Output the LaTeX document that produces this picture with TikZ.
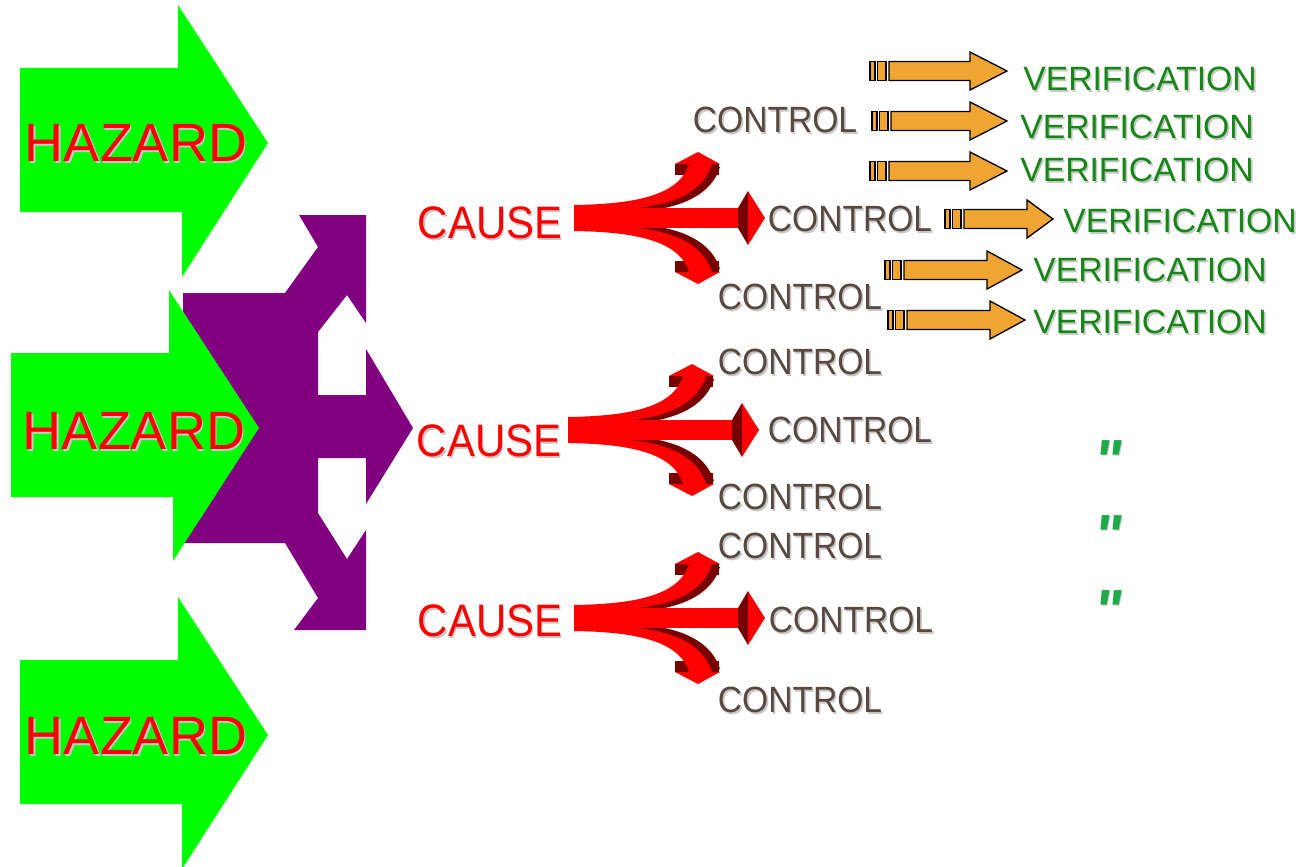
\documentclass[tikz,border=0pt]{standalone}
\usepackage{fontspec}
\setmainfont{Liberation Sans}
\newfontfamily\narrowfont[FakeStretch=0.92]{Liberation Sans}
\newfontfamily\dittofont[FakeSlant=0.15]{Liberation Sans}

\definecolor{hzgreen}{RGB}{0,255,0}
\definecolor{hzpurple}{RGB}{128,0,128}
\definecolor{forkred}{RGB}{255,0,0}
\definecolor{forkdark}{RGB}{118,0,0}
\definecolor{ctrlbrown}{RGB}{88,72,64}
\definecolor{verigreen}{RGB}{22,135,22}
\definecolor{vorange}{RGB}{240,165,50}
\definecolor{dittogreen}{RGB}{30,170,70}

% text with a soft grey drop shadow
\newcommand\shtext[1]{\rlap{\smash{\kern1.6pt\raisebox{-1.6pt}{\color{black!22}#1}}}#1}

\tikzset{
  hazardtext/.style={text=forkred, font=\fontsize{54}{60}\selectfont, inner sep=0pt},
  causetext/.style={text=forkred, font=\fontsize{45.5}{50}\narrowfont, inner sep=0pt},
  ctrltext/.style={text=ctrlbrown, font=\fontsize{36.5}{42}\narrowfont, inner sep=0pt},
  veritext/.style={text=verigreen, font=\fontsize{33.7}{40}\selectfont, inner sep=0pt},
  dittotext/.style={text=dittogreen, font=\fontsize{58}{64}\dittofont\bfseries, inner sep=0pt, anchor=base},
  vpart/.style={fill=vorange, draw=black, line width=1.3pt, line join=miter},
  % three-way 3D red arrow: stem at the origin, pointing right
  pics/fork/.style={code={
    \foreach \s in {1,-1}{
      \begin{scope}[yscale=\s]
        \fill[forkdark] (101,-54) rectangle (145,-43);
        \fill[forkdark, shift={(8,3)}] (0,-13) .. controls (60,-14) and (105,-22) .. (115,-54)
           -- (138,-54) .. controls (128,-22) and (90,-10) .. (45,-9) -- cycle;
      \end{scope}
    }
    \foreach \s in {1,-1}{
      \begin{scope}[yscale=\s]
        \fill[forkred] (0,-13) .. controls (60,-14) and (105,-22) .. (115,-54)
           -- (138,-54) .. controls (128,-22) and (90,-10) .. (45,-9) -- cycle;
        \fill[forkred] (101,-54) -- (124,-66) -- (146,-54) -- cycle;
      \end{scope}
    }
    \fill[forkred] (0,-13) rectangle (46,13);
    \fill[forkred] (40,-10) rectangle (168,10);
    \fill[forkdark] (164,-10) -- (174,-27) -- (174,27) -- (164,10) -- cycle;
    \fill[forkred] (174,-27) -- (191,0) -- (174,27) -- cycle;
  }},
  % orange block arrow with two small bars at its tail
  pics/verarrow/.style 2 args={code={
    \draw[vpart] (0,-9.5) rectangle (5,9.5);
    \draw[vpart] (7.5,-9.5) rectangle (16,9.5);
    \draw[vpart] (19,-9.5) -- (#1,-9.5) -- (#1,-19) -- (#2,0) -- (#1,19) -- (#1,9.5) -- (19,9.5) -- cycle;
  }}
}

\begin{document}
\begin{tikzpicture}[x=1pt,y=-1pt]
\useasboundingbox (0,0) rectangle (1306,867);

% purple merging arrow
\fill[hzpurple] (299,215) -- (366,215) -- (366,323) -- (347,295) -- (318,332) -- (318,395)
  -- (366,395) -- (366,349) -- (413,428) -- (366,504) -- (366,458) -- (318,458) -- (318,513)
  -- (347,559) -- (366,530) -- (366,630) -- (294,630) -- (318,598) -- (285,543) -- (183,543)
  -- (183,293) -- (285,293) -- (318,247) -- cycle;

% green hazard arrows
\fill[hzgreen] (20,68) -- (178,68) -- (178,5) -- (268,143) -- (182,277) -- (182,212) -- (20,212) -- cycle;
\fill[hzgreen] (11,353) -- (169,353) -- (169,290) -- (259,428) -- (173,561) -- (173,497) -- (11,497) -- cycle;
\fill[hzgreen] (20,660) -- (178,660) -- (178,597) -- (268,735) -- (182,869) -- (182,804) -- (20,804) -- cycle;

\node[hazardtext] (hz1) at (136,143) {\shtext{HAZARD}};
\node[hazardtext] (hz2) at (134,431) {\shtext{HAZARD}};
\node[hazardtext] (hz3) at (136,736) {\shtext{HAZARD}};

% causes
\node[causetext] (c1) at (490,223) {\shtext{CAUSE}};
\node[causetext] (c2) at (489,441) {\shtext{CAUSE}};
\node[causetext] (c3) at (490,621) {\shtext{CAUSE}};

% red forks from each cause
\pic at (574,218) {fork};
\pic at (568,430) {fork};
\pic at (574,618) {fork};

% controls
\node[ctrltext] (k1a) at (775,120) {\shtext{CONTROL}};
\node[ctrltext] (k1b) at (850,219) {\shtext{CONTROL}};
\node[ctrltext] (k1c) at (800,297) {\shtext{CONTROL}};
\node[ctrltext] (k2a) at (800,362) {\shtext{CONTROL}};
\node[ctrltext] (k2b) at (850,430) {\shtext{CONTROL}};
\node[ctrltext] (k2c) at (800,497) {\shtext{CONTROL}};
\node[ctrltext] (k3a) at (800,546) {\shtext{CONTROL}};
\node[ctrltext] (k3b) at (851,620) {\shtext{CONTROL}};
\node[ctrltext] (k3c) at (800,700) {\shtext{CONTROL}};

% verification arrows
\pic at (870,71)  {verarrow={100}{137}};
\pic at (872,121) {verarrow={98}{135}};
\pic at (870,171) {verarrow={100}{137}};
\pic at (945,219) {verarrow={82}{108}};
\pic at (885,270) {verarrow={102}{137}};
\pic at (888,320) {verarrow={102}{137}};

% verifications
\node[veritext] (v1) at (1140,79)  {\shtext{VERIFICATION}};
\node[veritext] (v2) at (1137,127) {\shtext{VERIFICATION}};
\node[veritext] (v3) at (1137,170) {\shtext{VERIFICATION}};
\node[veritext] (v4) at (1180,221) {\shtext{VERIFICATION}};
\node[veritext] (v5) at (1150,270) {\shtext{VERIFICATION}};
\node[veritext] (v6) at (1150,322) {\shtext{VERIFICATION}};

% ditto marks
\node[dittotext] (d1) at (1106,480) {\shtext{"}};
\node[dittotext] (d2) at (1106,555) {\shtext{"}};
\node[dittotext] (d3) at (1106,630) {\shtext{"}};
\end{tikzpicture}
\end{document}
